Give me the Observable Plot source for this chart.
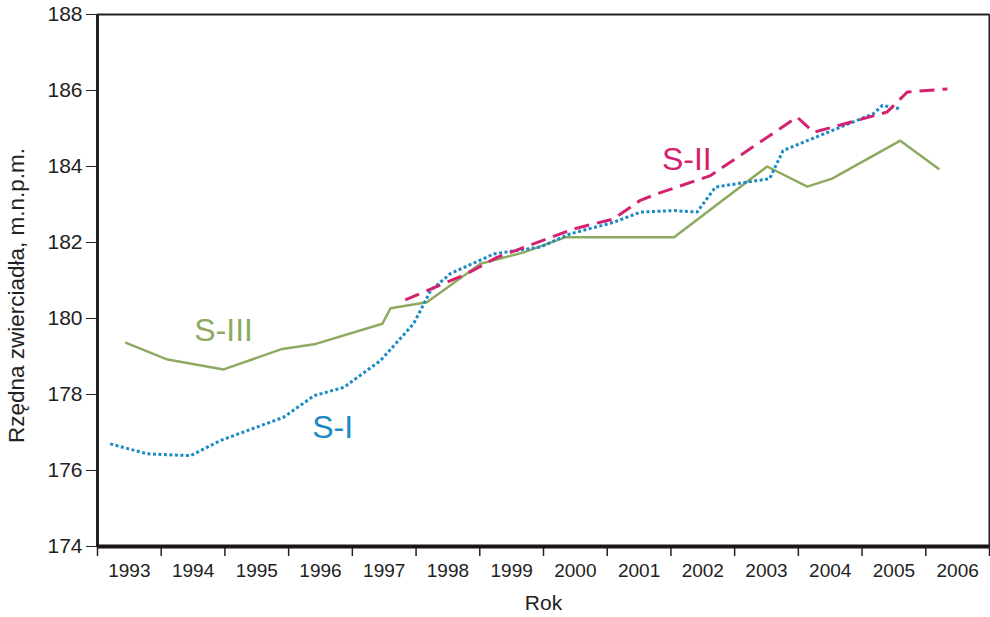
<!DOCTYPE html>
<html><head><meta charset="utf-8">
<script src="https://cdn.jsdelivr.net/npm/d3@7"></script>
<script src="https://cdn.jsdelivr.net/npm/@observablehq/plot@0.6"></script>
<style>body{margin:0;background:#fff} #chart{width:990px;height:617px}</style>
</head><body><div id="chart"></div>
<script>
// S-III (solid green)
const s3Years = [1993.45, 1994.10, 1994.98, 1995.90, 1996.40, 1997.47, 1997.60, 1998.17, 1999.01, 1999.69, 2000.35, 2002.05, 2003.51, 2004.14, 2004.53, 2005.60, 2006.20];
const s3Values = [179.36, 178.92, 178.66, 179.20, 179.32, 179.86, 180.27, 180.43, 181.44, 181.74, 182.14, 182.14, 184.00, 183.47, 183.68, 184.68, 183.94];
// S-I (dotted blue)
const s1Years = [1993.20, 1993.78, 1994.46, 1994.93, 1995.92, 1996.40, 1996.87, 1997.44, 1997.96, 1998.23, 1998.54, 1999.22, 1999.95, 2000.42, 2001.10, 2001.52, 2002.05, 2002.41, 2002.70, 2003.55, 2003.76, 2004.14, 2005.18, 2005.32, 2005.60];
const s1Values = [176.70, 176.44, 176.39, 176.79, 177.40, 177.97, 178.19, 178.89, 179.86, 180.74, 181.18, 181.70, 181.88, 182.23, 182.53, 182.80, 182.84, 182.80, 183.46, 183.68, 184.42, 184.68, 185.39, 185.61, 185.52];
// S-II (dashed magenta)
const s2Years = [1997.83, 1998.80, 1999.27, 2000.48, 2001.10, 2001.52, 2001.78, 2002.62, 2003.98, 2004.24, 2005.39, 2005.71, 2006.34];
const s2Values = [180.49, 181.18, 181.61, 182.36, 182.62, 183.11, 183.28, 183.76, 185.30, 184.90, 185.43, 185.96, 186.04];

const yearLabels = [1993, 1994, 1995, 1996, 1997, 1998, 1999, 2000, 2001, 2002, 2003, 2004, 2005, 2006];
const yTicks = [174, 176, 178, 180, 182, 184, 186, 188];
const seriesNames = ["S-I", "S-II", "S-III"];
const seriesColors = ["#1b8bc6", "#d4206f", "#8daa60"];
const labelYears = [1996.69, 2002.25, 1994.98];
const labelValues = [177.13, 184.18, 179.68];

const toRows = (xs, ys) => xs.map((x, i) => ({x, y: ys[i]}));
const s1 = toRows(s1Years, s1Values);
const s2 = toRows(s2Years, s2Values);
const s3 = toRows(s3Years, s3Values);
const labels = seriesNames.map((n, i) => ({name: n, x: labelYears[i], y: labelValues[i], color: seriesColors[i]}));
const tickYears = [...yearLabels, yearLabels[yearLabels.length - 1] + 1];

const plot = Plot.plot({
  width: 990, height: 617,
  marginLeft: 97, marginRight: 1, marginTop: 14, marginBottom: 71,
  style: {fontFamily: "'Liberation Sans', Arial, sans-serif", background: "#fff", color: "#222"},
  x: {domain: [1993, 2007]},
  y: {domain: [174, 188]},
  marks: [
    Plot.axisY({ticks: yTicks, tickSize: 11, tickPadding: 4, fontSize: 21, label: null, stroke: "#222"}),
    Plot.axisX({ticks: tickYears, tickSize: 10, tickFormat: () => "", label: null, stroke: "#222", strokeWidth: 1.5}),
    Plot.axisX({ticks: yearLabels.map(d => d + 0.5), tickSize: 0, tickPadding: 17, fontSize: 19, tickFormat: d => String(Math.floor(d)), label: null}),
    Plot.ruleY([188], {stroke: "#222", strokeWidth: 2}),
    Plot.ruleX([2007], {stroke: "#222", strokeWidth: 2}),
    Plot.line(s3, {x: "x", y: "y", stroke: seriesColors[2], strokeWidth: 2.5}),
    Plot.line(s1, {x: "x", y: "y", stroke: seriesColors[0], strokeWidth: 3, strokeDasharray: "3 2.5", strokeLinecap: "butt", strokeLinejoin: "round"}),
    Plot.line(s2, {x: "x", y: "y", stroke: seriesColors[1], strokeWidth: 3, strokeDasharray: "15 8", strokeLinecap: "butt", strokeLinejoin: "round"}),
    Plot.ruleX([1993], {stroke: "#222", strokeWidth: 3}),
    Plot.ruleY([174], {stroke: "#1a1414", strokeWidth: 4}),
    Plot.text(labels, {x: "x", y: "y", text: "name", fill: "color", fontSize: 32}),
    Plot.text(["Rok"], {frameAnchor: "bottom", dy: 63, fontSize: 21, fill: "#222"}),
    Plot.text(["Rzędna zwierciadła, m.n.p.m."], {frameAnchor: "left", dx: -81, dy: 15, rotate: -90, textAnchor: "middle", fontSize: 22.5, fill: "#222"})
  ]
});
document.getElementById("chart").appendChild(plot);
</script></body></html>
